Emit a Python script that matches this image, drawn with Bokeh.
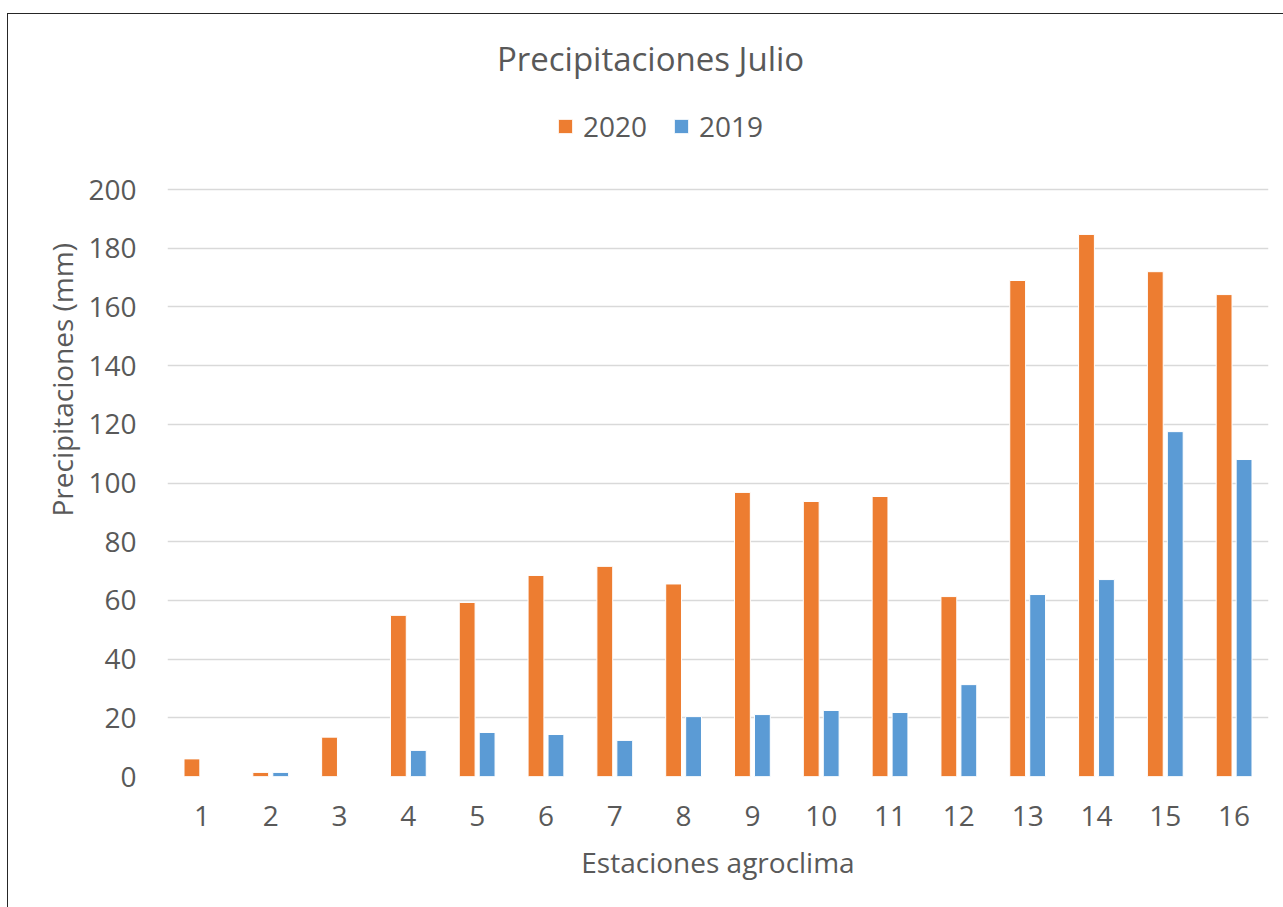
import numpy as np
from bokeh.plotting import figure
from bokeh.models import (ColumnDataSource, Range1d, FixedTicker, Label, Legend, LegendItem,
                          Title, InlineStyleSheet)
from bokeh.transform import dodge
from bokeh.embed import file_html
from bokeh.resources import INLINE

# ---- data ----
stations = list(range(1, 17))
station_labels = [str(s) for s in stations]
prec_2020 = [6.0, 1.4, 13.4, 54.9, 59.3, 68.5, 71.6, 65.6, 96.8, 93.7, 95.4, 61.3, 169.0, 184.7, 172.0, 164.2]
prec_2019 = [0.0, 1.4, 0.0, 8.9, 15.0, 14.3, 12.3, 20.4, 21.1, 22.5, 21.8, 31.3, 62.0, 67.1, 117.5, 108.0]
series_names = ["2020", "2019"]
series_colors = ["#ED7D31", "#5B9BD5"]
y_ticks = list(range(0, 201, 20))

title_text = "Precipitaciones Julio"
x_label = "Estaciones agroclima"
y_label = "Precipitaciones (mm)"

FONT = "Open Sans"
TXT = "#595959"

src = ColumnDataSource(dict(station=stations, p2020=prec_2020, p2019=prec_2019))

# frame extends up to the chart top so the title and legend sit inside it
p = figure(width=1283, height=907, output_backend="svg", toolbar_location=None,
           x_range=Range1d(0.5, 16.5), y_range=Range1d(0, 262.7),
           min_border_left=167, min_border_right=15, min_border_top=5, min_border_bottom=131)
p.outline_line_color = None
p.background_fill_color = "white"
p.border_fill_color = "white"
p.stylesheets = [InlineStyleSheet(css=(
    ":host{position:relative;}"
    ":host::after{content:'';position:absolute;left:7px;top:13px;right:0;bottom:0;"
    "border-left:1.5px solid #262626;border-top:1.5px solid #262626;pointer-events:none;}"))]

r2020 = p.vbar(x=dodge("station", -0.145, range=p.x_range), top="p2020", width=0.23, source=src,
               fill_color=series_colors[0], line_color="white", line_width=1)
r2019 = p.vbar(x=dodge("station", 0.145, range=p.x_range), top="p2019", width=0.23, source=src,
               fill_color=series_colors[1], line_color="white", line_width=1)

# axes
p.xaxis.ticker = FixedTicker(ticks=stations)
p.xaxis.major_label_overrides = {s: l for s, l in zip(stations, station_labels)}
p.yaxis.ticker = FixedTicker(ticks=y_ticks)
for ax in (p.xaxis[0], p.yaxis[0]):
    ax.axis_line_color = None
    ax.major_tick_line_color = None
    ax.minor_tick_line_color = None
    ax.major_tick_out = 0
    ax.major_tick_in = 0
    ax.major_label_text_font = FONT
    ax.major_label_text_font_size = "28px"
    ax.major_label_text_color = TXT
p.xaxis.major_label_standoff = 29
p.yaxis.major_label_standoff = 31
p.xaxis.axis_label = x_label
p.xaxis.axis_label_text_font = FONT
p.xaxis.axis_label_text_font_size = "28px"
p.xaxis.axis_label_text_font_style = "normal"
p.xaxis.axis_label_text_color = TXT
p.xaxis.axis_label_standoff = 14

p.xgrid.grid_line_color = None
p.ygrid.grid_line_color = "#d9d9d9"
p.ygrid.grid_line_width = 1.3
p.ygrid.ticker = FixedTicker(ticks=y_ticks)

# chart title (centered on the whole chart)
p.add_layout(Label(x=7.52, y=244.8, text=title_text, text_font=FONT, text_font_size="33px",
                   text_color=TXT, text_align="center", text_baseline="alphabetic"))

# y axis title
p.add_layout(Title(text=y_label, align="left", offset=260, standoff=10, text_font=FONT,
                   text_font_size="28px", text_font_style="normal", text_color=TXT), "left")

legend = Legend(items=[LegendItem(label=series_names[0], renderers=[r2020]),
                       LegendItem(label=series_names[1], renderers=[r2019])],
                orientation="horizontal", location=(389, 631),
                glyph_width=18, glyph_height=18, label_standoff=9, spacing=25,
                padding=0, margin=0, border_line_color=None, background_fill_alpha=0,
                label_text_font=FONT, label_text_font_size="28px", label_text_color=TXT)
p.add_layout(legend, "center")

open("out.html", "w").write(file_html(p, INLINE))
